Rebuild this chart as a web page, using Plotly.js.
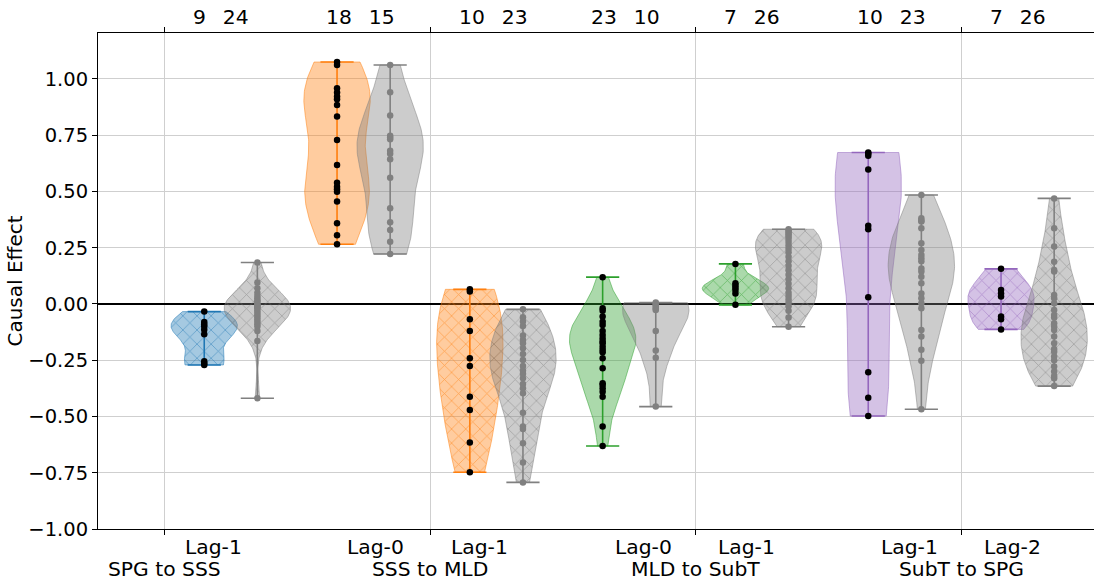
<!DOCTYPE html>
<html>
<head>
<meta charset="utf-8">
<script src="https://cdn.plot.ly/plotly-3.0.1.min.js"></script>
<style>html,body{margin:0;padding:0;background:#fff;}#chart{width:1094px;height:588px;}</style>
</head>
<body>
<div id="chart"></div>
<script>
// ---- categories / labels ----
const groupLabels = ["SPG to SSS", "SSS to MLD", "MLD to SubT", "SubT to SPG"];
const lagLabels = ["Lag-1", "Lag-0", "Lag-1", "Lag-0", "Lag-1", "Lag-1", "Lag-2"];
const pairColors = ["#1f77b4", "#ff7f0e", "#ff7f0e", "#2ca02c", "#2ca02c", "#9467bd", "#9467bd"];
const hatched = [true, false, true, false, true, false, true];

// ---- series values (colored = selected, gray = rest) ----
const spgSss_lag1_sel = [-0.034, -0.08, -0.09, -0.10, -0.115, -0.135, -0.255, -0.265, -0.271];
const spgSss_lag1_rest = [0.184, 0.095, 0.07, 0.05, 0.035, 0.025, 0.015, 0.01, 0.0, -0.005, -0.01, -0.015, -0.02, -0.03, -0.04, -0.05, -0.06, -0.07, -0.08, -0.09, -0.1, -0.12, -0.165, -0.419];
const sssMld_lag0_sel = [1.075, 1.062, 0.959, 0.94, 0.922, 0.91, 0.884, 0.833, 0.729, 0.618, 0.539, 0.521, 0.51, 0.499, 0.455, 0.359, 0.305, 0.265];
const sssMld_lag0_rest = [1.062, 0.941, 0.837, 0.747, 0.74, 0.732, 0.681, 0.667, 0.643, 0.561, 0.425, 0.363, 0.329, 0.276, 0.222];
const sssMld_lag1_sel = [0.065, 0.055, -0.068, -0.12, -0.241, -0.276, -0.412, -0.471, -0.616, -0.748];
const sssMld_lag1_rest = [-0.024, -0.059, -0.078, -0.098, -0.14, -0.16, -0.175, -0.197, -0.222, -0.249, -0.276, -0.296, -0.31, -0.33, -0.356, -0.375, -0.397, -0.483, -0.545, -0.556, -0.619, -0.705, -0.793];
const mldSubt_lag0_sel = [0.119, -0.019, -0.03, -0.056, -0.079, -0.093, -0.12, -0.138, -0.153, -0.167, -0.175, -0.19, -0.204, -0.215, -0.241, -0.286, -0.352, -0.36, -0.375, -0.39, -0.412, -0.545, -0.631];
const mldSubt_lag0_rest = [0.006, 0.0, -0.005, -0.012, -0.02, -0.027, -0.12, -0.207, -0.239, -0.456];
const mldSubt_lag1_sel = [0.178, 0.092, 0.082, 0.072, 0.062, 0.047, -0.004];
const mldSubt_lag1_rest = [0.332, 0.325, 0.318, 0.31, 0.30, 0.29, 0.275, 0.26, 0.245, 0.23, 0.21, 0.19, 0.17, 0.15, 0.13, 0.11, 0.09, 0.07, 0.05, 0.035, 0.02, 0.005, -0.01, -0.03, -0.06, -0.101];
const subtSpg_lag1_sel = [0.673, 0.668, 0.658, 0.598, 0.347, 0.332, 0.03, -0.304, -0.417, -0.498];
const subtSpg_lag1_rest = [0.484, 0.381, 0.37, 0.366, 0.336, 0.27, 0.24, 0.218, 0.203, 0.19, 0.158, 0.144, 0.121, 0.092, 0.047, 0.025, 0.003, -0.019, -0.116, -0.145, -0.204, -0.252, -0.468];
const subtSpg_lag2_sel = [0.156, 0.062, 0.047, 0.033, -0.056, -0.068, -0.113];
const subtSpg_lag2_rest = [0.469, 0.336, 0.255, 0.188, 0.151, 0.144, 0.04, 0.025, 0.003, -0.027, -0.049, -0.06, -0.086, -0.1, -0.116, -0.145, -0.175, -0.2, -0.212, -0.234, -0.25, -0.278, -0.3, -0.32, -0.33, -0.365];

const selSeries = [spgSss_lag1_sel, sssMld_lag0_sel, sssMld_lag1_sel, mldSubt_lag0_sel, mldSubt_lag1_sel, subtSpg_lag1_sel, subtSpg_lag2_sel];
const restSeries = [spgSss_lag1_rest, sssMld_lag0_rest, sssMld_lag1_rest, mldSubt_lag0_rest, mldSubt_lag1_rest, subtSpg_lag1_rest, subtSpg_lag2_rest];

// ---- layout constants ----
const OFFSET = 0.2, WIDTH = 0.5, GRAY = "#808080";
const groupPos = [-0.5, 1.5, 3.5, 5.5];
const lagLabelPos = [-0.127, 1.093, 1.869, 3.104, 3.880, 5.107, 5.883];
const FONT = "DejaVu Sans, Liberation Sans, sans-serif";
const FS = 20.3;

function rgba(hex, a) {
  const r = parseInt(hex.slice(1, 3), 16), g = parseInt(hex.slice(3, 5), 16), b = parseInt(hex.slice(5, 7), 16);
  return `rgba(${r},${g},${b},${a})`;
}

// Gaussian KDE with Scott's bandwidth (as matplotlib's violinplot)
function violinOutline(vals, pos) {
  const n = vals.length;
  const mean = vals.reduce((a, b) => a + b, 0) / n;
  const sd = Math.sqrt(vals.reduce((a, b) => a + (b - mean) * (b - mean), 0) / (n - 1));
  const bw = sd * Math.pow(n, -0.2);
  const lo = Math.min(...vals), hi = Math.max(...vals);
  const ys = [], ds = [];
  for (let i = 0; i < 100; i++) {
    const y = lo + (hi - lo) * i / 99;
    let d = 0;
    for (const v of vals) d += Math.exp(-0.5 * ((y - v) / bw) ** 2);
    ys.push(y); ds.push(d);
  }
  const mx = Math.max(...ds);
  const half = ds.map(d => 0.5 * WIDTH * d / mx);
  const xs = [], yy = [];
  for (let i = 0; i < 100; i++) { xs.push(pos + half[i]); yy.push(ys[i]); }
  for (let i = 99; i >= 0; i--) { xs.push(pos - half[i]); yy.push(ys[i]); }
  xs.push(xs[0]); yy.push(yy[0]);
  return {x: xs, y: yy, lo, hi};
}

const traces = [];
function addViolin(vals, pos, color, lineColor, ptColor, hatch) {
  const o = violinOutline(vals, pos);
  const body = {
    type: "scatter", mode: "lines", x: o.x, y: o.y, fill: "toself",
    fillcolor: rgba(color, 0.4), line: {color: rgba(color, 0.5), width: 1},
    hoverinfo: "skip", showlegend: false
  };
  if (hatch) {
    body.fillpattern = {shape: "x", size: 10, solidity: 0.14, fillmode: "replace",
      bgcolor: rgba(color, 0.4), fgcolor: rgba(color, 0.6)};
  }
  traces.push(body);
  const c = 0.25 * WIDTH;
  traces.push({
    type: "scatter", mode: "lines",
    x: [pos, pos, null, pos - c, pos + c, null, pos - c, pos + c],
    y: [o.lo, o.hi, null, o.lo, o.lo, null, o.hi, o.hi],
    line: {color: lineColor, width: 1.6}, hoverinfo: "skip", showlegend: false
  });
  traces.push({
    type: "scatter", mode: "markers", x: vals.map(() => pos), y: vals,
    marker: {color: ptColor, size: 6.5}, showlegend: false
  });
}

for (let k = 0; k < selSeries.length; k++) {
  addViolin(selSeries[k], k - OFFSET, pairColors[k], pairColors[k], "#000000", hatched[k]);
  addViolin(restSeries[k], k + OFFSET, GRAY, GRAY, GRAY, hatched[k]);
}

const annotations = [];
lagLabels.forEach((t, k) => annotations.push({
  text: t, x: lagLabelPos[k], xref: "x", y: 0, yref: "paper", xanchor: "center", yanchor: "middle",
  yshift: -18, showarrow: false, font: {family: FONT, size: FS, color: "#000"}
}));
groupLabels.forEach((t, i) => annotations.push({
  text: t, x: groupPos[i], xref: "x", y: 0, yref: "paper", xanchor: "center", yanchor: "middle",
  yshift: -40, showarrow: false, font: {family: FONT, size: FS, color: "#000"}
}));
selSeries.forEach((s, k) => annotations.push({
  text: String(s.length) + "\u00A0\u00A0\u2009" + String(restSeries[k].length),
  x: k - 0.30, xref: "x", y: 1, yref: "paper", xanchor: "left", yanchor: "middle",
  yshift: 16, showarrow: false, font: {family: FONT, size: FS, color: "#000"}
}));

const yTicks = [-1, -0.75, -0.5, -0.25, 0, 0.25, 0.5, 0.75, 1];
const yTickText = yTicks.map(v => (v < 0 ? "\u2212" : "") + Math.abs(v).toFixed(2));

const layout = {
  width: 1094, height: 588,
  margin: {l: 98, r: 0, t: 33, b: 59},
  paper_bgcolor: "#fff", plot_bgcolor: "#fff",
  font: {family: FONT, size: FS, color: "#000"},
  showlegend: false,
  xaxis: {
    range: [-1, 6.5], tickvals: groupPos, showticklabels: false,
    ticks: "outside", ticklen: 5, tickcolor: "#000", tickwidth: 1,
    showgrid: true, gridcolor: "#cfcfcf", gridwidth: 1,
    showline: true, linecolor: "#000", linewidth: 1, mirror: "ticks", zeroline: false
  },
  yaxis: {
    range: [-1, 1.204], tickvals: yTicks, ticktext: yTickText,
    ticks: "outside", ticklen: 5, tickcolor: "#000", tickwidth: 1,
    showgrid: true, gridcolor: "#cfcfcf", gridwidth: 1,
    zeroline: true, zerolinecolor: "#000", zerolinewidth: 1.5,
    showline: true, linecolor: "#000", linewidth: 1,
    tickfont: {family: FONT, size: 19.5, color: "#000"},
    title: {text: "Causal Effect", font: {family: FONT, size: 20, color: "#000"}, standoff: 0}
  },
  annotations: annotations
};

Plotly.newPlot("chart", traces, layout, {staticPlot: true, displayModeBar: false});
</script>
</body>
</html>
